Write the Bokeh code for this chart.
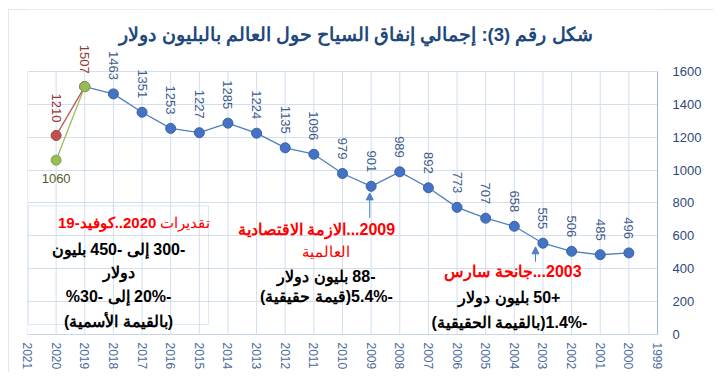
import math
from bokeh.plotting import figure
from bokeh.models import (Range1d, FixedTicker, ColumnDataSource, LabelSet, Label,
                          BoxAnnotation, Arrow, NormalHead)
from bokeh.core.properties import value
from bokeh.embed import file_html
from bokeh.resources import INLINE

# ---------------- data ----------------
years = [2019, 2018, 2017, 2016, 2015, 2014, 2013, 2012, 2011, 2010,
         2009, 2008, 2007, 2006, 2005, 2004, 2003, 2002, 2001, 2000]
spending = [1507, 1463, 1351, 1253, 1227, 1285, 1224, 1135, 1096, 979,
            901, 989, 892, 773, 707, 658, 555, 506, 485, 496]
scenario_years = [2019, 2020]
scenario_high = [1507, 1210]
scenario_low = [1507, 1060]
x_ticks = list(range(1999, 2022))
y_ticks = [0, 200, 400, 600, 800, 1000, 1200, 1400, 1600]

title_text = "شكل رقم (3): إجمالي إنفاق السياح حول العالم بالبليون دولار"
covid_head_bold = "2020..كوفيد-19"
covid_head_reg = "تقديرات"
covid_lines = ["-300 إلى -450 بليون", "دولار", "-20% إلى -30%", "(بالقيمة الأسمية)"]
crisis_head = ["2009...الازمة الاقتصادية", "العالمية"]
crisis_lines = ["-88 بليون دولار", "-5.4%(قيمة حقيقية)"]
sars_head = "2003...جانحة سارس"
sars_lines = ["+50 بليون دولار", "-1.4%(بالقيمة الحقيقية)"]

RLM = "\u200f"
def rtl(s):
    return RLM + s + RLM

FONT = "Liberation Sans"
BLUE = "#4F81BD"
RED = "#C0504D"
GREEN = "#9BBB59"
GRID = "#D3DEEF"

p = figure(width=705, height=363, x_range=Range1d(2021, 1999), y_range=Range1d(0, 1976),
           output_backend="svg", toolbar_location=None, y_axis_location="right",
           min_border_left=19, min_border_right=56, min_border_top=0, min_border_bottom=37)
p.outline_line_color = None
p.background_fill_color = "white"
p.border_fill_color = "white"
p.styles = {"margin-left": "8px", "margin-top": "9px",
            "outline": "1px solid #D5DFEC", "outline-offset": "-1px"}

# grid: horizontal from the axis ticks, vertical limited to the value span
p.xgrid.visible = False
p.ygrid.ticker = FixedTicker(ticks=y_ticks)
p.ygrid.grid_line_color = GRID
p.ygrid.grid_line_width = 1
p.segment(x0=x_ticks, y0=[y_ticks[0]] * len(x_ticks), x1=x_ticks, y1=[y_ticks[-1]] * len(x_ticks),
          line_color=GRID, line_width=1)

xa = p.xaxis[0]
xa.ticker = FixedTicker(ticks=x_ticks)
xa.major_label_orientation = -math.pi / 2
xa.major_label_text_font = FONT
xa.major_label_text_font_size = "12px"
xa.major_label_text_color = "#4A6A9C"
xa.axis_line_color = "#C8D6EA"
xa.major_tick_line_color = None
xa.minor_tick_line_color = None
xa.major_tick_out = 0
xa.major_tick_in = 0
xa.minor_tick_out = 0
xa.major_label_standoff = 8

ya = p.yaxis[0]
ya.ticker = FixedTicker(ticks=y_ticks)
ya.bounds = (y_ticks[0], y_ticks[-1])
ya.major_label_text_font = FONT
ya.major_label_text_font_size = "13px"
ya.major_label_text_color = "#2E4A7A"
ya.axis_line_color = "#9FB6D9"
ya.major_tick_line_color = None
ya.minor_tick_line_color = None
ya.major_tick_out = 0
ya.major_tick_in = 0
ya.minor_tick_out = 0
ya.major_label_standoff = 15

# ---------------- series ----------------
p.line(years, spending, line_color=BLUE, line_width=1.3)
p.scatter(years, spending, size=10, fill_color="#4473C5", line_color="#3A62A6", line_width=1)
p.line(scenario_years, scenario_high, line_color=RED, line_width=1.3)
p.scatter(scenario_years, scenario_high, size=10, fill_color=RED, line_color="#A5403D", line_width=1)
p.line(scenario_years, scenario_low, line_color=GREEN, line_width=1.3)
p.scatter(scenario_years, scenario_low, size=10, fill_color=GREEN, line_color="#86A447", line_width=1)

# ---------------- value labels ----------------
blue_src = ColumnDataSource(dict(x=years[1:], y=spending[1:], t=[str(v) for v in spending[1:]]))
p.add_layout(LabelSet(x="x", y="y", text="t", source=blue_src, angle=-math.pi / 2,
                      text_align="right", text_baseline="middle", y_offset=14,
                      text_color="#3F5C8A", text_font=value(FONT), text_font_size="13px"))
red_src = ColumnDataSource(dict(x=scenario_years, y=scenario_high, t=[str(v) for v in scenario_high]))
p.add_layout(LabelSet(x="x", y="y", text="t", source=red_src, angle=-math.pi / 2,
                      text_align="right", text_baseline="middle", y_offset=13,
                      text_color="#953735", text_font=value(FONT), text_font_size="13px"))
green_src = ColumnDataSource(dict(x=scenario_years[1:], y=scenario_low[1:], t=[str(v) for v in scenario_low[1:]]))
p.add_layout(LabelSet(x="x", y="y", text="t", source=green_src,
                      text_align="center", text_baseline="top", y_offset=-14,
                      text_color="#4F6228", text_font=value(FONT), text_font_size="13px"))

# ---------------- title ----------------
p.add_layout(Label(x=2001.27, y=1825, text=rtl(title_text), text_align="right", text_baseline="middle",
                   text_font=FONT, text_font_size="18.5px", text_font_style="bold", text_color="#1F497D"))

# ---------------- COVID box ----------------
p.add_layout(BoxAnnotation(left=2020.97, right=2014.68, bottom=61, top=782,
                           fill_color=None, line_color="#8DB3E2", line_width=1))
p.add_layout(Label(x=2016.5, y=679, text=rtl(covid_head_bold), text_align="right", text_baseline="middle",
                   text_font=FONT, text_font_size="15px", text_font_style="bold", text_color="#FF0000"))
p.add_layout(Label(x=2016.36, y=679, text=rtl(covid_head_reg), text_align="left", text_baseline="middle",
                   text_font=FONT, text_font_size="15px", text_color="#FF0000"))
for txt, yv in zip(covid_lines, [515, 376, 230, 79]):
    p.add_layout(Label(x=2017.82, y=yv, text=rtl(txt), text_align="center", text_baseline="middle",
                       text_font=FONT, text_font_size="16px", text_font_style="bold", text_color="#000000"))

# ---------------- 2009 crisis ----------------
p.add_layout(Label(x=2010.91, y=636, text=rtl(crisis_head[0]), text_align="center", text_baseline="middle",
                   text_font=FONT, text_font_size="16px", text_font_style="bold", text_color="#FF0000"))
p.add_layout(Label(x=2010.56, y=503, text=rtl(crisis_head[1]), text_align="center", text_baseline="middle",
                   text_font=FONT, text_font_size="15px", text_color="#FF0000"))
for txt, yv in zip(crisis_lines, [351, 230]):
    p.add_layout(Label(x=2010.56, y=yv, text=rtl(txt), text_align="center", text_baseline="middle",
                       text_font=FONT, text_font_size="16px", text_font_style="bold", text_color="#000000"))
i09 = years.index(2009)
p.add_layout(Arrow(end=NormalHead(size=7, fill_color=BLUE, line_color=BLUE),
                   x_start=2009.05, y_start=709, x_end=2009.05, y_end=spending[i09] - 40,
                   line_color=BLUE, line_width=1))

# ---------------- 2003 SARS ----------------
p.add_layout(Label(x=2004.05, y=382, text=rtl(sars_head), text_align="center", text_baseline="middle",
                   text_font=FONT, text_font_size="16px", text_font_style="bold", text_color="#FF0000"))
for txt, yv in zip(sars_lines, [224, 73]):
    p.add_layout(Label(x=2004.17, y=yv, text=rtl(txt), text_align="center", text_baseline="middle",
                       text_font=FONT, text_font_size="16px", text_font_style="bold", text_color="#000000"))
i03 = years.index(2003)
p.add_layout(Arrow(end=NormalHead(size=7, fill_color=BLUE, line_color=BLUE),
                   x_start=2003.26, y_start=442, x_end=2003.26, y_end=spending[i03] - 22,
                   line_color=BLUE, line_width=1))

open("out.html", "w").write(file_html(p, INLINE))
